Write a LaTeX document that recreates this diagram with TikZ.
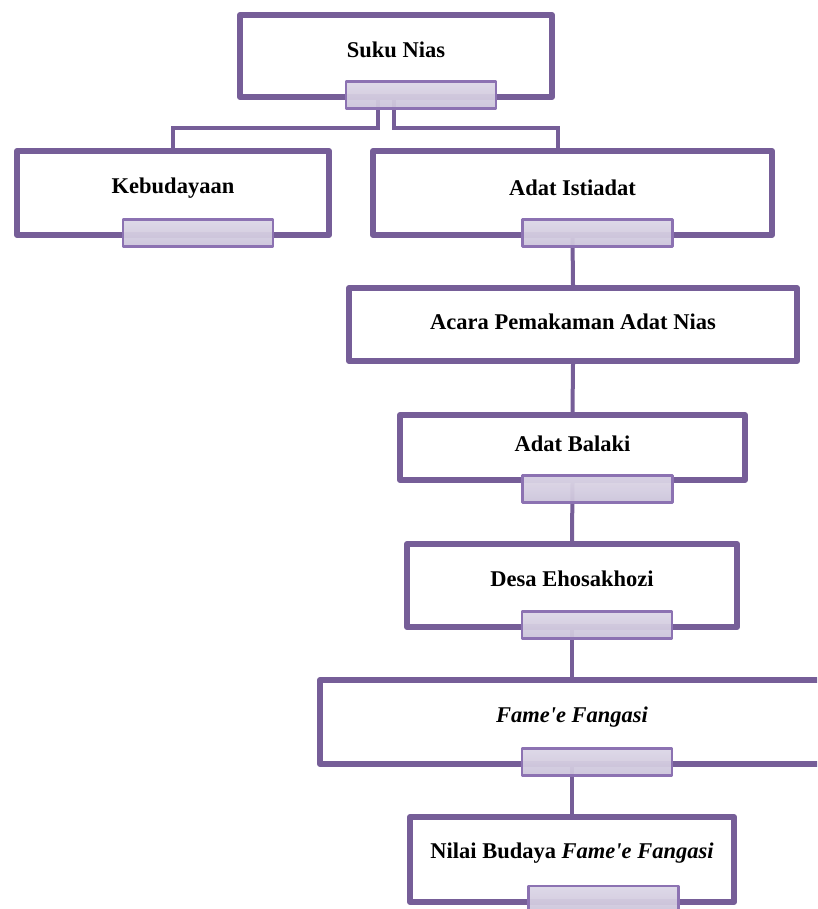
\documentclass[tikz,border=0pt]{standalone}
\usepackage{fontspec}
\setmainfont{Liberation Serif}[Ligatures=TeXOff]
\usetikzlibrary{positioning}

\definecolor{boxline}{HTML}{765E98}
\definecolor{tabline}{HTML}{8C72B2}
\definecolor{tabtop}{HTML}{DDD7E7}
\definecolor{tabbot}{HTML}{CCC4DA}

\tikzset{
  box/.style={draw=boxline, line width=6pt, fill=white, line join=round, inner sep=0pt},
  tab/.style={draw=tabline, line width=2.5pt, top color=tabtop, bottom color=tabbot,
    fill opacity=0.95, minimum width=150pt, minimum height=27pt, inner sep=0pt, line join=round},
  link/.style={draw=boxline, line width=4pt},
  boxtext/.style={font=\fontsize{22.5}{25}\selectfont\bfseries, inner sep=0pt}
}

\begin{document}
\begin{tikzpicture}[x=1pt, y=-1pt]
  \useasboundingbox (0,0) rectangle (817,909);
  \clip (0,0) rectangle (817,909);
  % Boxes
  \node[box, minimum width=312pt, minimum height=82pt] (suku) at (396,56) {};
  \node[box, minimum width=312pt, minimum height=84pt] (kebud) at (173,193) {};
  \node[box, minimum width=399pt, minimum height=84pt] (adat) at (572.5,193) {};
  \node[box, minimum width=448pt, minimum height=73pt] (acara) at (573,324.5) {};
  \node[box, minimum width=345pt, minimum height=65pt] (balaki) at (572.5,447.5) {};
  \node[box, minimum width=330pt, minimum height=83pt] (desa) at (572,585.5) {};
  \node[box, minimum width=504pt, minimum height=84pt] (fame) at (572,722) {};
  \node[box, minimum width=324pt, minimum height=85pt] (nilai) at (572,859.5) {};
  % Texts
  \node[boxtext] (sukutxt) at ([yshift=6pt]suku.center) {Suku Nias};
  \node[boxtext] (kebudtxt) at ([yshift=5pt]kebud.center) {Kebudayaan};
  \node[boxtext] (adattxt) at ([yshift=5pt]adat.center) {Adat Istiadat};
  \node[boxtext] (acaratxt) at ([yshift=3pt]acara.center) {Acara Pemakaman Adat Nias};
  \node[boxtext] (balakitxt) at ([yshift=4pt]balaki.center) {Adat Balaki};
  \node[boxtext] (desatxt) at ([yshift=7pt]desa.center) {Desa Ehosakhozi};
  \node[boxtext] (fametxt) at ([yshift=5pt]fame.center) {\textit{Fame'e Fangasi}};
  \node[boxtext] (nilaitxt) at ([yshift=6pt]nilai.center) {Nilai Budaya \textit{Fame'e Fangasi}};
  % Lines
  \draw[link] ([xshift=-18pt]suku.south) -- ++(0,28.5) -| (kebud.north);
  \draw[link] ([xshift=-2pt]suku.south) -- ++(0,28.5) -| ([xshift=-14.5pt]adat.north);
  \draw[link] (adat.south) -- (acara.north);
  \draw[link] (acara.south) -- (balaki.north);
  \draw[link] (balaki.south) -- (desa.north);
  \draw[link] (desa.south) -- (fame.north);
  \draw[link] (fame.south) -- (nilai.north);
  % Tabs
  \foreach \b in {suku,kebud,adat,desa,fame}
  {
    \node[tab] (\b tab) at ([xshift=25pt,yshift=5pt]\b.south) {};
  }
  \node[tab] (balakitab) at ([xshift=25pt,yshift=-6pt]balaki.south) {};
  \node[tab] (nilaitab) at ([xshift=31.5pt,yshift=5.5pt]nilai.south) {};
\end{tikzpicture}
\end{document}
